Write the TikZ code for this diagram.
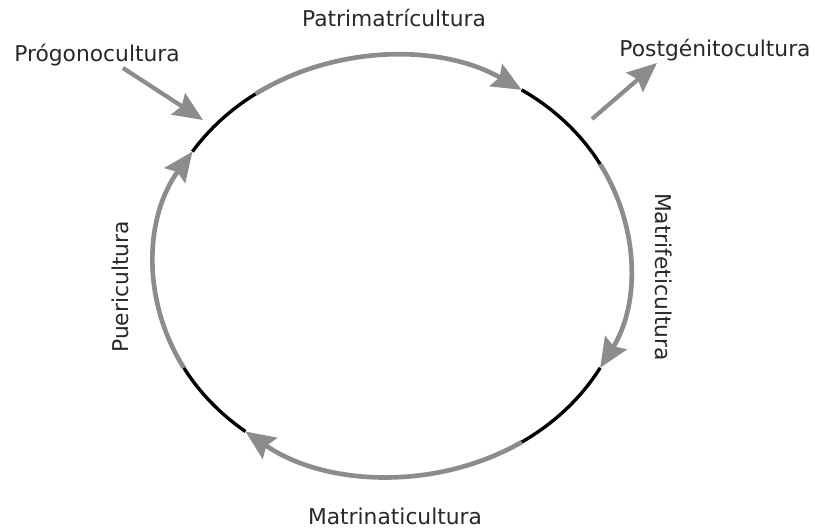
\documentclass[tikz,border=0pt]{standalone}
\usepackage{fontspec}
\setmainfont{DejaVu Sans}
\usetikzlibrary{arrows.meta}
\definecolor{cyclegray}{RGB}{140,140,140}
\definecolor{labelgray}{RGB}{40,40,40}

\begin{document}
\begin{tikzpicture}
      \tikzstyle{every node}=[font=\fontsize{15.5}{18}\selectfont,text=labelgray,
			      inner sep=1pt]
      \tikzstyle{grayarc}=[draw=cyclegray,line width=3.3pt,
			      -{Stealth[length=21pt,width=18pt,inset=3pt]}]
      \tikzstyle{blackarc}=[draw=black,line width=2.4pt]
      \useasboundingbox (0,0) rectangle (20.375,13.275);
      \coordinate (centre) at (9.8,6.625);
      % the cycle
      \draw[grayarc] (centre) ++(125:5.95 and 5.25)
	  arc[start angle=125,end angle=57,x radius=5.95,y radius=5.25];
      \draw[blackarc] (centre) ++(57:5.95 and 5.25)
	  arc[start angle=57,end angle=29,x radius=5.95,y radius=5.25];
      \draw[grayarc] (centre) ++(29:5.95 and 5.25)
	  arc[start angle=29,end angle=-29,x radius=5.95,y radius=5.25];
      \draw[blackarc] (centre) ++(-29:5.95 and 5.25)
	  arc[start angle=-29,end angle=-57,x radius=5.95,y radius=5.25];
      \draw[grayarc] (centre) ++(-57:5.95 and 5.25)
	  arc[start angle=-57,end angle=-128,x radius=5.95,y radius=5.25];
      \draw[blackarc] (centre) ++(-128:5.95 and 5.25)
	  arc[start angle=-128,end angle=-151,x radius=5.95,y radius=5.25];
      \draw[grayarc] (centre) ++(209:5.95 and 5.25)
	  arc[start angle=209,end angle=147,x radius=5.95,y radius=5.25];
      \draw[blackarc] (centre) ++(147:5.95 and 5.25)
	  arc[start angle=147,end angle=125,x radius=5.95,y radius=5.25];
      % labels
      \node (patri) at (9.85,12.825) {Patrimatrícultura};
      \node (matrife) at (16.6,6.35) [rotate=-90] {Matrifeticultura};
      \node (matrina) at (9.875,0.36) {Matrinaticultura};
      \node (pueri) at (3.0,6.1) [rotate=90] {Puericultura};
      \node (progono) at (2.425,11.9) {Prógonocultura};
      \node (postgen) at (17.875,12.025) {Postgénitocultura};
      % in and out
      \coordinate (progtail) at (3.075,11.575);
      \coordinate (progtip) at (5.075,10.275);
      \coordinate (posttail) at (14.8,10.3);
      \coordinate (posttip) at (16.425,11.7);
      \draw[grayarc,line width=3pt] (progtail) -- (progtip);
      \draw[grayarc,line width=3pt] (posttail) -- (posttip);
\end{tikzpicture}
\end{document}
